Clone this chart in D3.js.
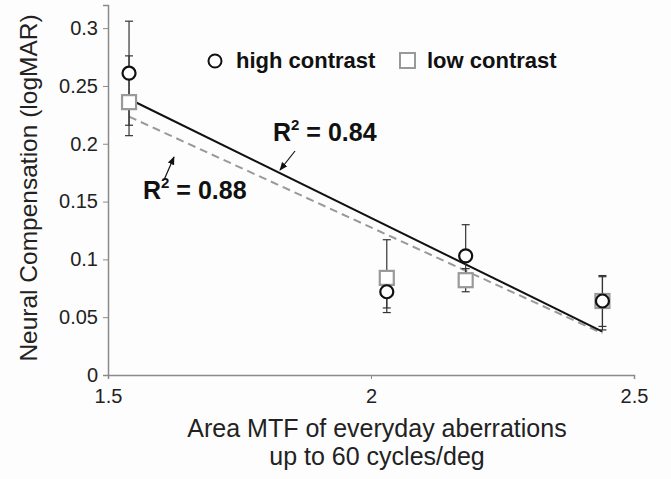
<!DOCTYPE html>
<html>
<head>
<meta charset="utf-8">
<script src="https://cdn.jsdelivr.net/npm/d3@7.9.0/dist/d3.min.js"></script>
<style>
  body { margin: 0; background: #fdfdfd; }
  svg { display: block; font-family: "Liberation Sans", Arial, sans-serif; }
</style>
</head>
<body>
<svg id="chart" width="671" height="479"></svg>
<script>
// data
const areaMTF = [1.54, 2.03, 2.18, 2.44];

const highContrast = [0.261, 0.072, 0.103, 0.064];
const highUpper = [0.306, 0.087, 0.130, 0.086];
const highLower = [0.216, 0.058, 0.078, 0.042];

const lowContrast = [0.236, 0.084, 0.082, 0.064];
const lowUpper = [0.276, 0.117, 0.092, 0.085];
const lowLower = [0.207, 0.054, 0.072, 0.039];

// regression line end points [x, y]
const fitHigh = [[1.54, 0.2387], [2.44, 0.0375]];
const fitLow = [[1.54, 0.2235], [2.44, 0.036]];

const xTicks = [1.5, 2, 2.5];
const yTicks = [0, 0.05, 0.1, 0.15, 0.2, 0.25, 0.3];

const svg = d3.select('#chart');
const x = d3.scaleLinear().domain([1.5, 2.5]).range([108, 634]);
const y = d3.scaleLinear().domain([0, 0.32]).range([375, 5]);

const axisColor = '#8a8a8a';
const textColor = '#222';

// axes
const xAxis = svg.append('g')
  .attr('transform', `translate(0,${y(0)})`)
  .call(d3.axisBottom(x).tickValues(xTicks).tickSize(4).tickPadding(10)
    .tickFormat(d3.format('')));
const yAxis = svg.append('g')
  .attr('transform', `translate(${x(1.5)},0)`)
  .call(d3.axisLeft(y).tickValues(yTicks).tickSize(5).tickPadding(5)
    .tickFormat(d => d === 0 ? '0' : d3.format('')(+d.toFixed(2))));

[xAxis, yAxis].forEach(a => {
  a.select('.domain').attr('stroke', axisColor).attr('stroke-width', 1.5);
  a.selectAll('.tick line').attr('stroke', axisColor);
  a.selectAll('.tick text').attr('fill', textColor)
    .style('font-size', '20px').style('font-family', '"Liberation Sans", Arial, sans-serif');
});

// axis titles
svg.append('text')
  .attr('x', 377).attr('y', 437)
  .attr('text-anchor', 'middle').attr('fill', textColor)
  .style('font-size', '25px')
  .text('Area MTF of everyday aberrations');
svg.append('text')
  .attr('x', 377).attr('y', 465)
  .attr('text-anchor', 'middle').attr('fill', textColor)
  .style('font-size', '25px')
  .text('up to 60 cycles/deg');
svg.append('text')
  .attr('transform', 'translate(37,188) rotate(-90)')
  .attr('text-anchor', 'middle').attr('fill', textColor)
  .style('font-size', '24.5px')
  .text('Neural Compensation (logMAR)');

// fit lines
const line = d3.line().x(d => x(d[0])).y(d => y(d[1]));
svg.append('path').datum(fitLow)
  .attr('d', line).attr('fill', 'none')
  .attr('stroke', '#999').attr('stroke-width', 2)
  .attr('stroke-dasharray', '8,5');
svg.append('path').datum(fitHigh)
  .attr('d', line).attr('fill', 'none')
  .attr('stroke', '#111').attr('stroke-width', 2);

// error bars
function errorBars(upper, lower) {
  const g = svg.append('g').attr('stroke', '#333').attr('stroke-width', 1.2);
  areaMTF.forEach((v, i) => {
    g.append('line')
      .attr('x1', x(v)).attr('x2', x(v))
      .attr('y1', y(upper[i])).attr('y2', y(lower[i]));
    [upper[i], lower[i]].forEach(e => {
      g.append('line')
        .attr('x1', x(v) - 4).attr('x2', x(v) + 4)
        .attr('y1', y(e)).attr('y2', y(e));
    });
  });
}
errorBars(lowUpper, lowLower);
errorBars(highUpper, highLower);

// markers
svg.append('g').selectAll('rect')
  .data(lowContrast)
  .join('rect')
  .attr('x', (d, i) => x(areaMTF[i]) - 7)
  .attr('y', d => y(d) - 7)
  .attr('width', 14).attr('height', 14)
  .attr('fill', '#fff').attr('stroke', '#999').attr('stroke-width', 2.2);

svg.append('g').selectAll('circle')
  .data(highContrast)
  .join('circle')
  .attr('cx', (d, i) => x(areaMTF[i]))
  .attr('cy', d => y(d))
  .attr('r', 6.5)
  .attr('fill', '#fff').attr('stroke', '#111').attr('stroke-width', 2.2);

// legend
svg.append('circle')
  .attr('cx', 215).attr('cy', 61).attr('r', 6.5)
  .attr('fill', '#fff').attr('stroke', '#111').attr('stroke-width', 2);
svg.append('text')
  .attr('x', 236).attr('y', 68).attr('fill', '#111')
  .style('font-size', '22px').style('font-weight', 'bold')
  .text('high contrast');
svg.append('rect')
  .attr('x', 400).attr('y', 53).attr('width', 15).attr('height', 15)
  .attr('fill', '#fff').attr('stroke', '#999').attr('stroke-width', 2);
svg.append('text')
  .attr('x', 427).attr('y', 68).attr('fill', '#111')
  .style('font-size', '22px').style('font-weight', 'bold')
  .text('low contrast');

// R² annotations
function rLabel(px, py, value) {
  const t = svg.append('text')
    .attr('x', px).attr('y', py).attr('fill', '#111')
    .style('font-size', '25px').style('font-weight', 'bold');
  t.append('tspan').text('R');
  t.append('tspan').attr('dy', -11).style('font-size', '15px').text('2');
  t.append('tspan').attr('dy', 11).text(' = ' + value);
}
rLabel(273, 141, '0.84');
rLabel(143, 199, '0.88');

svg.append('defs').append('marker')
  .attr('id', 'arrow').attr('viewBox', '0 0 10 10')
  .attr('refX', 9).attr('refY', 5)
  .attr('markerWidth', 7).attr('markerHeight', 7)
  .attr('orient', 'auto')
  .append('path').attr('d', 'M0,1 L10,5 L0,9 z').attr('fill', '#111');

svg.append('line')
  .attr('x1', 295).attr('y1', 151).attr('x2', 280).attr('y2', 170)
  .attr('stroke', '#111').attr('stroke-width', 1.2)
  .attr('marker-end', 'url(#arrow)');
svg.append('line')
  .attr('x1', 164).attr('y1', 180).attr('x2', 174).attr('y2', 157)
  .attr('stroke', '#111').attr('stroke-width', 1.2)
  .attr('marker-end', 'url(#arrow)');
</script>
</body>
</html>
